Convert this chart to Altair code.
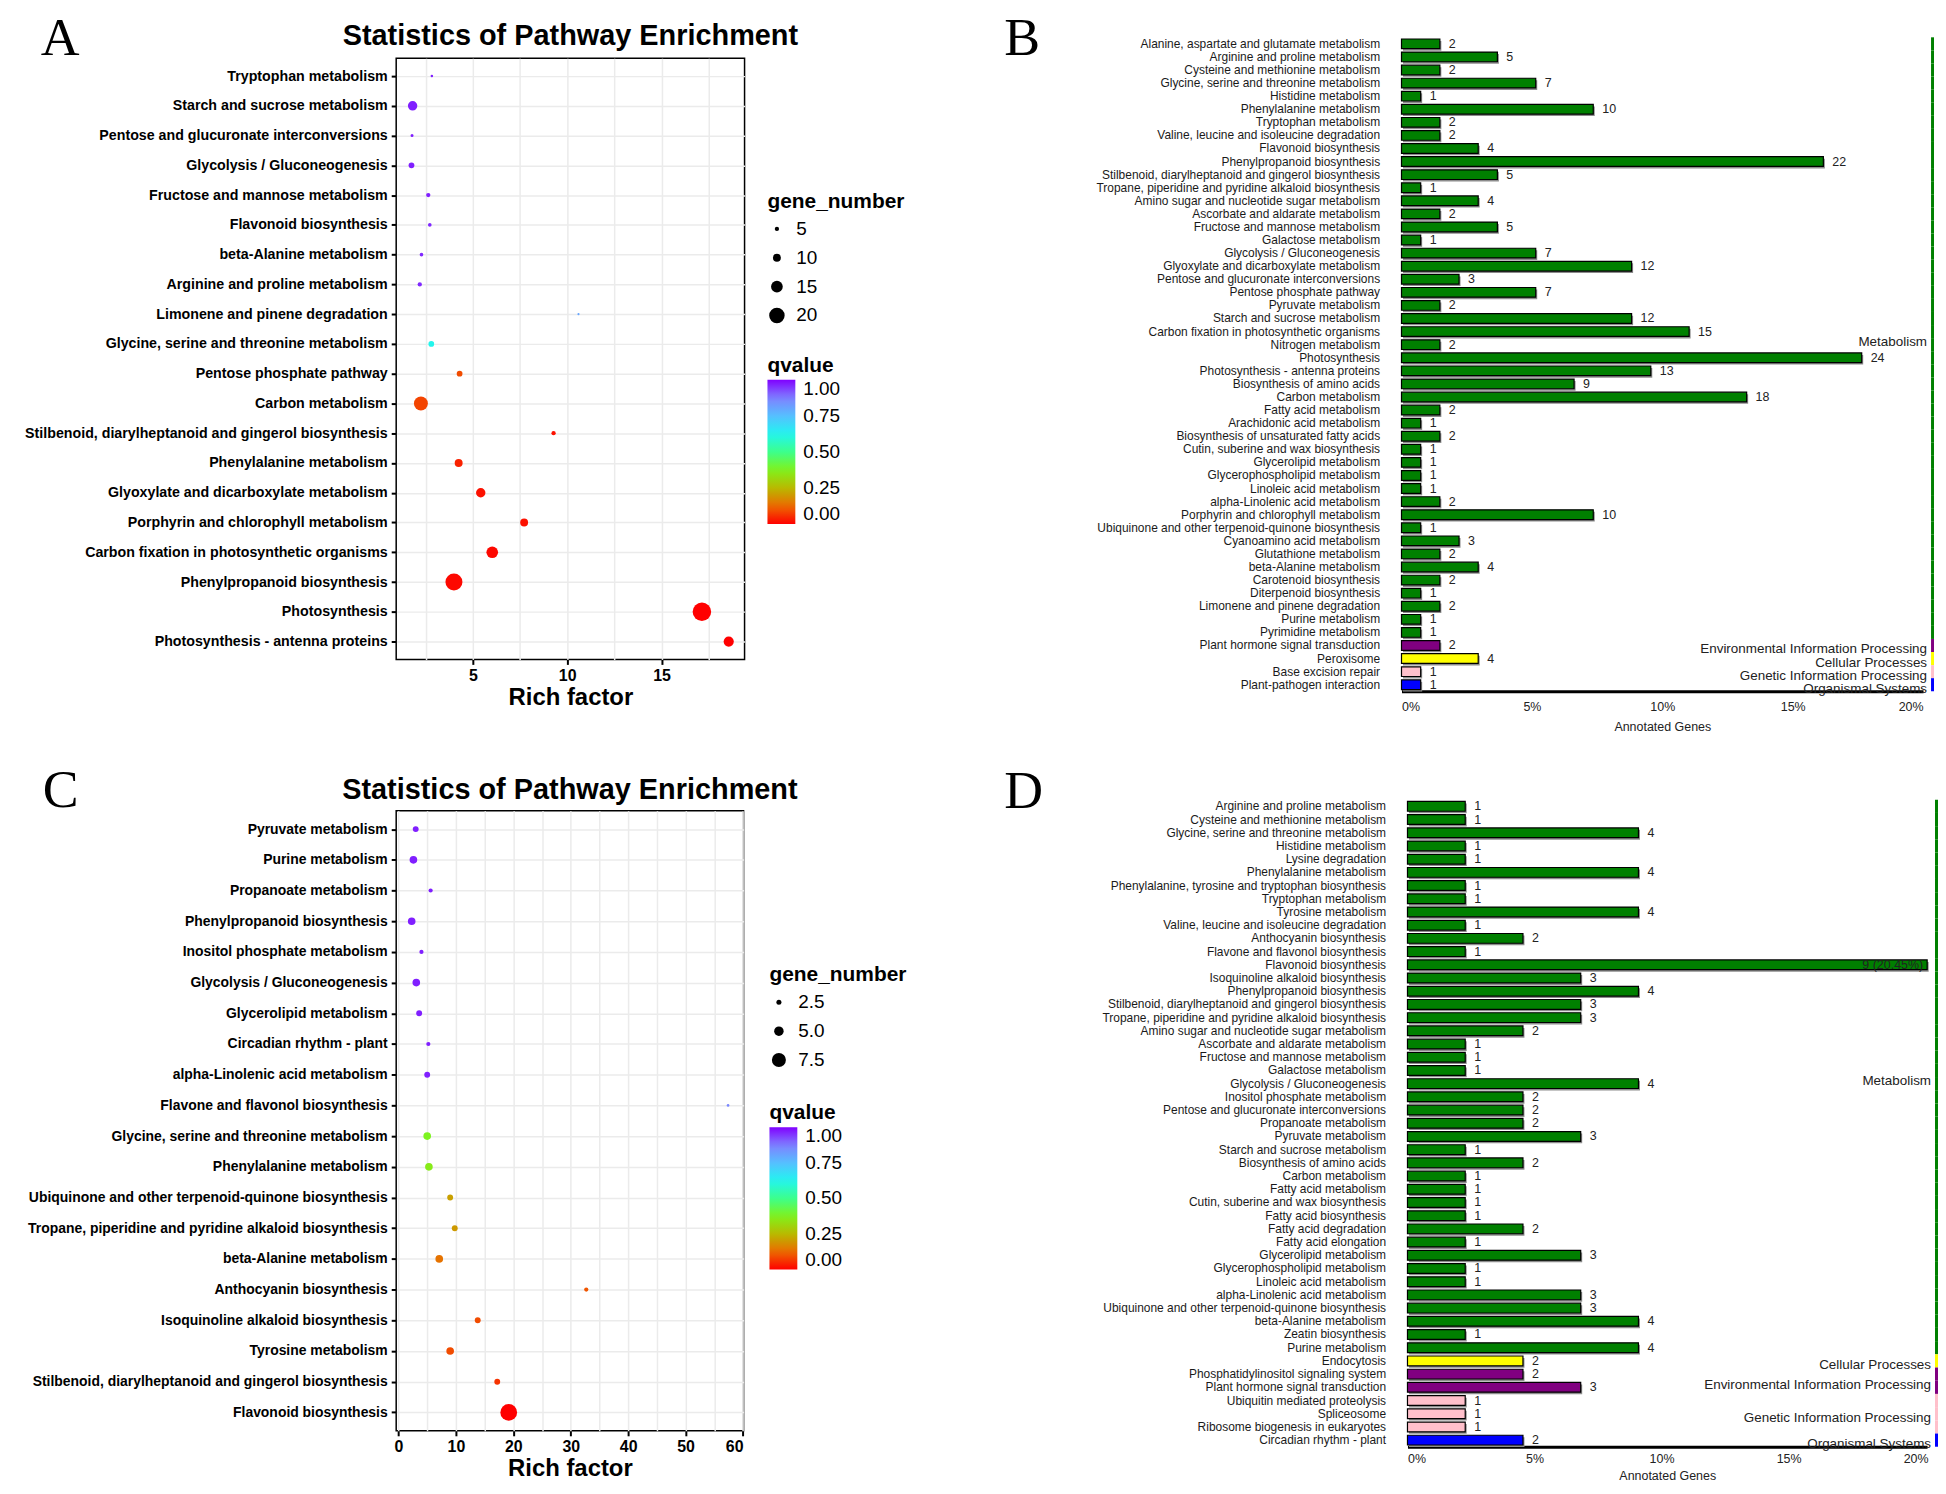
import altair as alt
import pandas as pd

SANS = "Liberation Sans, Arial, Helvetica, sans-serif"
SERIF = "Liberation Serif, Times New Roman, serif"

# ---------------- Panel A (bubble) ----------------
a_pathways = [
    "Tryptophan metabolism", "Starch and sucrose metabolism",
    "Pentose and glucuronate interconversions", "Glycolysis / Gluconeogenesis",
    "Fructose and mannose metabolism", "Flavonoid biosynthesis",
    "beta-Alanine metabolism", "Arginine and proline metabolism",
    "Limonene and pinene degradation", "Glycine, serine and threonine metabolism",
    "Pentose phosphate pathway", "Carbon metabolism",
    "Stilbenoid, diarylheptanoid and gingerol biosynthesis", "Phenylalanine metabolism",
    "Glyoxylate and dicarboxylate metabolism", "Porphyrin and chlorophyll metabolism",
    "Carbon fixation in photosynthetic organisms", "Phenylpropanoid biosynthesis",
    "Photosynthesis", "Photosynthesis - antenna proteins",
]
a_rich = [2.83, 1.81, 1.78, 1.75, 2.64, 2.72, 2.28, 2.19, 10.6, 2.8,
          4.3, 2.25, 9.28, 4.25, 5.42, 7.72, 6.03, 4.0, 17.14, 18.56]
a_genes = [2, 12, 3, 7, 5, 4, 4, 5, 1, 7, 7, 18, 5, 10, 12, 10, 15, 22, 24, 13]
a_q = [0.97, 0.97, 0.97, 0.97, 0.97, 0.96, 0.96, 0.96, 0.80, 0.62,
       0.09, 0.08, 0.02, 0.04, 0.02, 0.02, 0.01, 0.01, 0.0, 0.0]

# ---------------- Panel C (bubble) ----------------
c_pathways = [
    "Pyruvate metabolism", "Purine metabolism", "Propanoate metabolism",
    "Phenylpropanoid biosynthesis", "Inositol phosphate metabolism",
    "Glycolysis / Gluconeogenesis", "Glycerolipid metabolism",
    "Circadian rhythm - plant", "alpha-Linolenic acid metabolism",
    "Flavone and flavonol biosynthesis", "Glycine, serine and threonine metabolism",
    "Phenylalanine metabolism", "Ubiquinone and other terpenoid-quinone biosynthesis",
    "Tropane, piperidine and pyridine alkaloid biosynthesis", "beta-Alanine metabolism",
    "Anthocyanin biosynthesis", "Isoquinoline alkaloid biosynthesis",
    "Tyrosine metabolism", "Stilbenoid, diarylheptanoid and gingerol biosynthesis",
    "Flavonoid biosynthesis",
]
c_rich = [3.0, 2.6, 5.6, 2.3, 4.0, 3.1, 3.6, 5.2, 5.0, 57.4,
          5.0, 5.3, 9.0, 9.8, 7.1, 32.7, 13.8, 9.0, 17.2, 19.2]
c_genes = [3, 4, 2, 4, 2, 4, 3, 2, 3, 1, 4, 4, 3, 3, 4, 2, 3, 4, 3, 9]
c_q = [0.97, 0.97, 0.97, 0.97, 0.97, 0.97, 0.97, 0.97, 0.97, 0.86,
       0.38, 0.36, 0.21, 0.20, 0.14, 0.10, 0.09, 0.09, 0.06, 0.0]

# ---------------- Panel B (KEGG classification) ----------------
b_pathways = [
    "Alanine, aspartate and glutamate metabolism", "Arginine and proline metabolism",
    "Cysteine and methionine metabolism", "Glycine, serine and threonine metabolism",
    "Histidine metabolism", "Phenylalanine metabolism", "Tryptophan metabolism",
    "Valine, leucine and isoleucine degradation", "Flavonoid biosynthesis",
    "Phenylpropanoid biosynthesis", "Stilbenoid, diarylheptanoid and gingerol biosynthesis",
    "Tropane, piperidine and pyridine alkaloid biosynthesis",
    "Amino sugar and nucleotide sugar metabolism", "Ascorbate and aldarate metabolism",
    "Fructose and mannose metabolism", "Galactose metabolism",
    "Glycolysis / Gluconeogenesis", "Glyoxylate and dicarboxylate metabolism",
    "Pentose and glucuronate interconversions", "Pentose phosphate pathway",
    "Pyruvate metabolism", "Starch and sucrose metabolism",
    "Carbon fixation in photosynthetic organisms", "Nitrogen metabolism",
    "Photosynthesis", "Photosynthesis - antenna proteins", "Biosynthesis of amino acids",
    "Carbon metabolism", "Fatty acid metabolism", "Arachidonic acid metabolism",
    "Biosynthesis of unsaturated fatty acids", "Cutin, suberine and wax biosynthesis",
    "Glycerolipid metabolism", "Glycerophospholipid metabolism", "Linoleic acid metabolism",
    "alpha-Linolenic acid metabolism", "Porphyrin and chlorophyll metabolism",
    "Ubiquinone and other terpenoid-quinone biosynthesis", "Cyanoamino acid metabolism",
    "Glutathione metabolism", "beta-Alanine metabolism", "Carotenoid biosynthesis",
    "Diterpenoid biosynthesis", "Limonene and pinene degradation", "Purine metabolism",
    "Pyrimidine metabolism", "Plant hormone signal transduction", "Peroxisome",
    "Base excision repair", "Plant-pathogen interaction",
]
b_genes = [2, 5, 2, 7, 1, 10, 2, 2, 4, 22,
           5, 1, 4, 2, 5, 1, 7, 12, 3, 7,
           2, 12, 15, 2, 24, 13, 9, 18, 2, 1,
           2, 1, 1, 1, 1, 2, 10, 1, 3, 2,
           4, 2, 1, 2, 1, 1, 2, 4, 1, 1]
b_class = (["Metabolism"] * 46 + ["Environmental Information Processing",
           "Cellular Processes", "Genetic Information Processing", "Organismal Systems"])
b_total = 136

# ---------------- Panel D (KEGG classification) ----------------
d_pathways = [
    "Arginine and proline metabolism", "Cysteine and methionine metabolism",
    "Glycine, serine and threonine metabolism", "Histidine metabolism", "Lysine degradation",
    "Phenylalanine metabolism", "Phenylalanine, tyrosine and tryptophan biosynthesis",
    "Tryptophan metabolism", "Tyrosine metabolism", "Valine, leucine and isoleucine degradation",
    "Anthocyanin biosynthesis", "Flavone and flavonol biosynthesis", "Flavonoid biosynthesis",
    "Isoquinoline alkaloid biosynthesis", "Phenylpropanoid biosynthesis",
    "Stilbenoid, diarylheptanoid and gingerol biosynthesis",
    "Tropane, piperidine and pyridine alkaloid biosynthesis",
    "Amino sugar and nucleotide sugar metabolism", "Ascorbate and aldarate metabolism",
    "Fructose and mannose metabolism", "Galactose metabolism", "Glycolysis / Gluconeogenesis",
    "Inositol phosphate metabolism", "Pentose and glucuronate interconversions",
    "Propanoate metabolism", "Pyruvate metabolism", "Starch and sucrose metabolism",
    "Biosynthesis of amino acids", "Carbon metabolism", "Fatty acid metabolism",
    "Cutin, suberine and wax biosynthesis", "Fatty acid biosynthesis", "Fatty acid degradation",
    "Fatty acid elongation", "Glycerolipid metabolism", "Glycerophospholipid metabolism",
    "Linoleic acid metabolism", "alpha-Linolenic acid metabolism",
    "Ubiquinone and other terpenoid-quinone biosynthesis", "beta-Alanine metabolism",
    "Zeatin biosynthesis", "Purine metabolism", "Endocytosis",
    "Phosphatidylinositol signaling system", "Plant hormone signal transduction",
    "Ubiquitin mediated proteolysis", "Spliceosome", "Ribosome biogenesis in eukaryotes",
    "Circadian rhythm - plant",
]
d_genes = [1, 1, 4, 1, 1, 4, 1, 1, 4, 1,
           2, 1, 9, 3, 4, 3, 3, 2, 1, 1,
           1, 4, 2, 2, 2, 3, 1, 2, 1, 1,
           1, 1, 2, 1, 3, 1, 1, 3, 3, 4,
           1, 4, 2, 2, 3, 1, 1, 1, 2]
d_class = (["Metabolism"] * 42 + ["Cellular Processes",
           "Environmental Information Processing", "Environmental Information Processing",
           "Genetic Information Processing", "Genetic Information Processing",
           "Genetic Information Processing", "Organismal Systems"])
d_total = 44

QSTOPS = [0, 0.125, 0.25, 0.375, 0.5, 0.625, 0.75, 0.875, 1]
QCOLORS = ["#FF0000", "#EC6A00", "#B9B900", "#80F21C", "#3CFF8C",
           "#22F5F0", "#56BFFF", "#7F80FF", "#8000FF"]
CLASS_NAMES = ["Metabolism", "Environmental Information Processing", "Cellular Processes",
               "Genetic Information Processing", "Organismal Systems"]
CLASS_COLORS = ["#008000", "#800080", "#FFFF00", "#FFC0CB", "#0000FF"]


def text_layer(txt, lx, ly, font, size, weight="normal", align="left"):
    return alt.Chart(pd.DataFrame({"t": [txt]})).mark_text(
        font=font, fontSize=size, fontWeight=weight, align=align,
        baseline="alphabetic", color="black"
    ).encode(x=alt.value(lx), y=alt.value(ly), text="t:N")


def bubble_panel(pathways, rich, genes, q, W, H, xdom, xvals, lab_mod,
                 size_max, area_max, size_vals, size_fmt, leg_x, size_y, color_y,
                 grad_len, letter, lx, ly, head_y, lab_size):
    df = pd.DataFrame({"pathway": pathways, "rich": rich, "genes": genes, "q": q})
    pts = alt.Chart(df).mark_circle(opacity=1).encode(
        x=alt.X("rich:Q", scale=alt.Scale(domain=xdom, nice=False, zero=False),
                axis=alt.Axis(values=xvals,
                              labelExpr=f"datum.value % {lab_mod} == 0 ? datum.label : ''",
                              tickOpacity={"condition": {"test": f"datum.value % {lab_mod} != 0", "value": 0}, "value": 1},
                              grid=True, gridColor="#EBEBEB", gridWidth=1.5, domain=False,
                              tickColor="black", tickSize=5, tickWidth=2,
                              labelFont=SANS, labelFontSize=16, labelFontWeight="bold",
                              labelColor="black", labelPadding=3,
                              title="Rich factor", titleFont=SANS, titleFontSize=24,
                              titleFontWeight="bold", titleColor="black", titlePadding=2)),
        y=alt.Y("pathway:N", sort=None, title=None,
                scale=alt.Scale(type="point", padding=0.6),
                axis=alt.Axis(domain=False, ticks=True, tickColor="black", tickSize=5,
                              tickWidth=2, grid=True, gridColor="#EBEBEB", gridWidth=1.5,
                              labelFont=SANS, labelFontSize=lab_size, labelFontWeight="bold",
                              labelColor="black", labelPadding=4, labelLimit=700)),
        size=alt.Size("genes:Q",
                      scale=alt.Scale(type="pow", exponent=2, domain=[0, size_max],
                                      range=[4, area_max]),
                      legend=alt.Legend(title="gene_number", orient="none", legendX=leg_x,
                                        legendY=size_y, values=size_vals, format=size_fmt,
                                        symbolType="circle", symbolFillColor="black",
                                        symbolStrokeColor="black", symbolStrokeWidth=0,
                                        symbolOpacity=1,
                                        titleFont=SANS, titleFontSize=21, titleFontWeight="bold",
                                        titleColor="black", labelFont=SANS, labelFontSize=19,
                                        labelColor="black", labelOffset=10, rowPadding=9,
                                        titlePadding=8)),
        color=alt.Color("q:Q", scale=alt.Scale(domain=QSTOPS, range=QCOLORS, interpolate="rgb"),
                        legend=alt.Legend(title="qvalue", orient="none", legendX=leg_x,
                                          legendY=color_y, type="gradient",
                                          direction="vertical", gradientLength=grad_len,
                                          gradientThickness=28, values=[0, 0.25, 0.5, 0.75, 1],
                                          format=".2f", labelOverlap=False,
                                          gradientStrokeWidth=0,
                                          titleFont=SANS, titleFontSize=21,
                                          titleFontWeight="bold", titleColor="black",
                                          labelFont=SANS, labelFontSize=19, labelColor="black",
                                          labelOffset=8, titlePadding=4)),
    )
    heading = text_layer("Statistics of Pathway Enrichment", W / 2, head_y, SANS, 29,
                         "bold", "center")
    return alt.layer(pts, heading, text_layer(letter, lx, ly, SERIF, 54)).properties(
        width=W, height=H,
        view=alt.ViewBackground(stroke="black", strokeWidth=1.5),
    )


def bar_panel(pathways, genes, classes, total, W, H, top, xmax, letter, lx, ly,
              lab_pad, title_pad):
    df = pd.DataFrame({"pathway": pathways, "genes": genes, "cls": classes})
    df["pct"] = df["genes"] / total * 100
    df["inside"] = df["pct"] >= 20
    df["lab"] = [f"{g} ({p:.2f}%)" if ins else str(g)
                 for g, p, ins in zip(df["genes"], df["pct"], df["inside"])]
    n = len(df)
    cats = []
    for c in CLASS_NAMES:
        idx = [i for i, k in enumerate(classes) if k == c]
        if idx:
            cats.append({"cls": c, "mid": (idx[0] + idx[-1] + 1) / 2})
    cdf = pd.DataFrame(cats)
    yr = [-top, H]

    yenc = alt.Y("pathway:N", sort=None, title=None,
                 scale=alt.Scale(paddingInner=0, paddingOuter=0, range=yr),
                 axis=alt.Axis(domain=False, ticks=False, labelFont=SANS, labelFontSize=12,
                               labelColor="#1a1a1a", labelPadding=22, labelLimit=700))
    xenc = alt.X("pct:Q", scale=alt.Scale(domain=[0, xmax], nice=False, zero=True),
                 axis=alt.Axis(values=[0, 5, 10, 15, 20], labelExpr="datum.value + '%'",
                               grid=False, ticks=False, domainColor="black", domainWidth=3,
                               labelFont=SANS, labelFontSize=12.5, labelColor="#222",
                               labelPadding=lab_pad, title="Annotated Genes", titleFont=SANS,
                               titleFontSize=12.5, titleFontWeight="normal", titleColor="#222",
                               titlePadding=title_pad))
    colenc = alt.Color("cls:N", scale=alt.Scale(domain=CLASS_NAMES, range=CLASS_COLORS),
                       legend=None)
    base = alt.Chart(df)
    shadow = base.mark_bar(color="#8c8c8c", height={"band": 0.74}, xOffset=1.5,
                           yOffset=2).encode(x=xenc, y=yenc)
    bars = base.mark_bar(height={"band": 0.74}, stroke="black", strokeWidth=1.2).encode(
        x=xenc, y=yenc, color=colenc)
    side = base.mark_bar(height={"band": 1}).encode(
        x=alt.value(W + 8), x2=alt.value(W + 11), y=yenc, color=colenc)
    layers = [shadow, bars, side]
    layers.append(alt.Chart(df[~df["inside"]]).mark_text(
        align="left", baseline="middle", dx=9, font=SANS, fontSize=12.5, color="#222"
    ).encode(x=xenc, y=yenc, text="lab:N"))
    if df["inside"].any():
        layers.append(alt.Chart(df[df["inside"]]).mark_text(
            align="right", baseline="middle", dx=-4, font=SANS, fontSize=12.5, color="#222"
        ).encode(x=xenc, y=yenc, text="lab:N"))
    inner = alt.layer(*layers)
    catlab = alt.Chart(cdf).mark_text(
        align="right", baseline="middle", dy=4, font=SANS, fontSize=13.5, color="#222"
    ).encode(x=alt.value(W + 4),
             y=alt.Y("mid:Q", scale=alt.Scale(domain=[0, n], range=yr, nice=False,
                                              zero=False), axis=None),
             text="cls:N")
    return alt.layer(inner, catlab, text_layer(letter, lx, ly, SERIF, 54)).resolve_scale(
        y="independent").properties(width=W, height=H,
                                    view=alt.ViewBackground(stroke=None))


A = bubble_panel(a_pathways, a_rich, a_genes, a_q, 350, 604, [0.94, 19.4],
                 [2.5, 5, 7.5, 10, 12.5, 15, 17.5], 5, 24, 346, [5, 10, 15, 20], "d",
                 373, 133, 298, 145, "A", -357, -3, -13, 14.3)
C = bubble_panel(c_pathways, c_rich, c_genes, c_q, 349, 623, [-0.4, 60.1],
                 [0, 5, 10, 15, 20, 25, 30, 35, 40, 45, 50, 55, 60], 10, 9, 283,
                 [2.5, 5, 7.5], ".1f", 375, 154, 293, 143, "C", -355, -4, -12, 14.0)
# B: plot group top aligned with A; bars start 21px higher
B = bar_panel(b_pathways, b_genes, b_class, b_total, 524, 636, 21, 20, "B", -399, -3, 9, 8)
# D: plot group top aligned with C; bars start 11px higher
D = bar_panel(d_pathways, d_genes, d_class, d_total, 522, 639, 11, 20.45, "D", -405, -3, 6, 4)


def indep(ch):
    return ch.resolve_scale(color="independent", size="independent").resolve_legend(
        color="independent", size="independent")


chart = indep(alt.vconcat(
    indep(alt.hconcat(A, B, spacing=99)),
    indep(alt.hconcat(C, D, spacing=97)),
    spacing=30,
)).properties(
    padding={"left": 15, "top": 0, "right": 0, "bottom": 0},
    background="white",
)

chart.save("out.html", embed_options={"renderer": "svg", "actions": False})
